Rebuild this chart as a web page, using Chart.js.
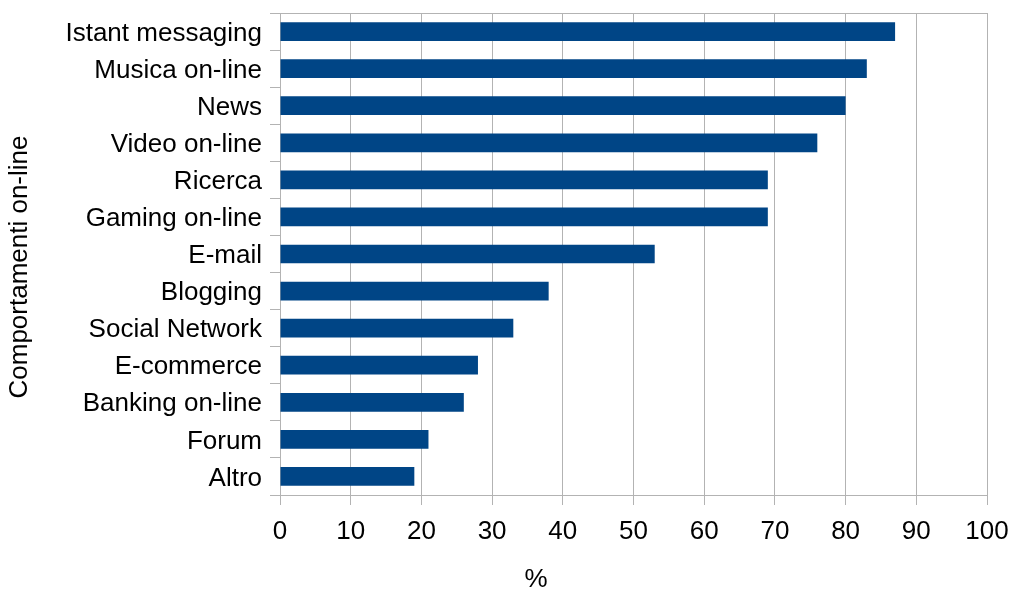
<!DOCTYPE html>
<html>
<head>
<meta charset="utf-8">
<script src="https://cdn.jsdelivr.net/npm/chart.js@4/dist/chart.umd.min.js"></script>
<style>
  html, body { margin: 0; padding: 0; background: #fff; }
  #wrap { width: 1010px; height: 591px; position: relative; }
</style>
</head>
<body>
<div id="wrap"><canvas id="chart"></canvas></div>
<script>
const categories = [
  "Istant messaging", "Musica on-line", "News", "Video on-line", "Ricerca",
  "Gaming on-line", "E-mail", "Blogging", "Social Network", "E-commerce",
  "Banking on-line", "Forum", "Altro"
];
const percentages = [87, 83, 80, 76, 69, 69, 53, 38, 33, 28, 26, 21, 19];
const xTitle = "%";
const yTitle = "Comportamenti on-line";

const gridGray = "#b3b3b3";
const font = { family: "'Liberation Sans', Arial, sans-serif", size: 26 };

// axis titles sit off-centre, so they are drawn by hand
const axisTitles = {
  id: "axisTitles",
  afterDraw(chart) {
    const ctx = chart.ctx;
    ctx.save();
    ctx.fillStyle = "#000";
    ctx.font = font.size + "px " + font.family;
    ctx.textAlign = "center";
    ctx.textBaseline = "middle";
    ctx.fillText(xTitle, 536, 580);
    ctx.translate(20, 267);
    ctx.rotate(-Math.PI / 2);
    ctx.fillText(yTitle, 0, 0);
    ctx.restore();
  }
};

new Chart(document.getElementById("chart"), {
  type: "bar",
  data: {
    labels: categories,
    datasets: [{
      data: percentages,
      backgroundColor: "#004586",
      borderWidth: 0,
      barPercentage: 0.505,
      categoryPercentage: 1
    }]
  },
  options: {
    indexAxis: "y",
    responsive: true,
    maintainAspectRatio: false,
    animation: false,
    layout: { padding: { top: 13, right: 23, left: 0, bottom: 0 } },
    plugins: { legend: { display: false }, tooltip: { enabled: false } },
    scales: {
      x: {
        min: 0,
        max: 100,
        ticks: { stepSize: 10, color: "#000", font: font, padding: 11, maxRotation: 0 },
        grid: { color: gridGray, tickColor: gridGray, tickLength: 10, lineWidth: 1 },
        border: { display: true, color: gridGray },
        afterFit(scale) {
          scale.height = 96;
          scale.paddingLeft = 0;
          scale.paddingRight = 0;
        }
      },
      y: {
        ticks: { color: "#000", font: font, padding: 8, labelOffset: 2 },
        grid: {
          color: c => (c.index === 0 ? gridGray : "rgba(0,0,0,0)"),
          tickColor: gridGray,
          tickLength: 10,
          lineWidth: 1
        },
        border: { display: true, color: gridGray },
        afterFit(scale) {
          scale.width = 280;
          scale.paddingTop = 0;
          scale.paddingBottom = 0;
        }
      }
    }
  },
  plugins: [axisTitles]
});
</script>
</body>
</html>
